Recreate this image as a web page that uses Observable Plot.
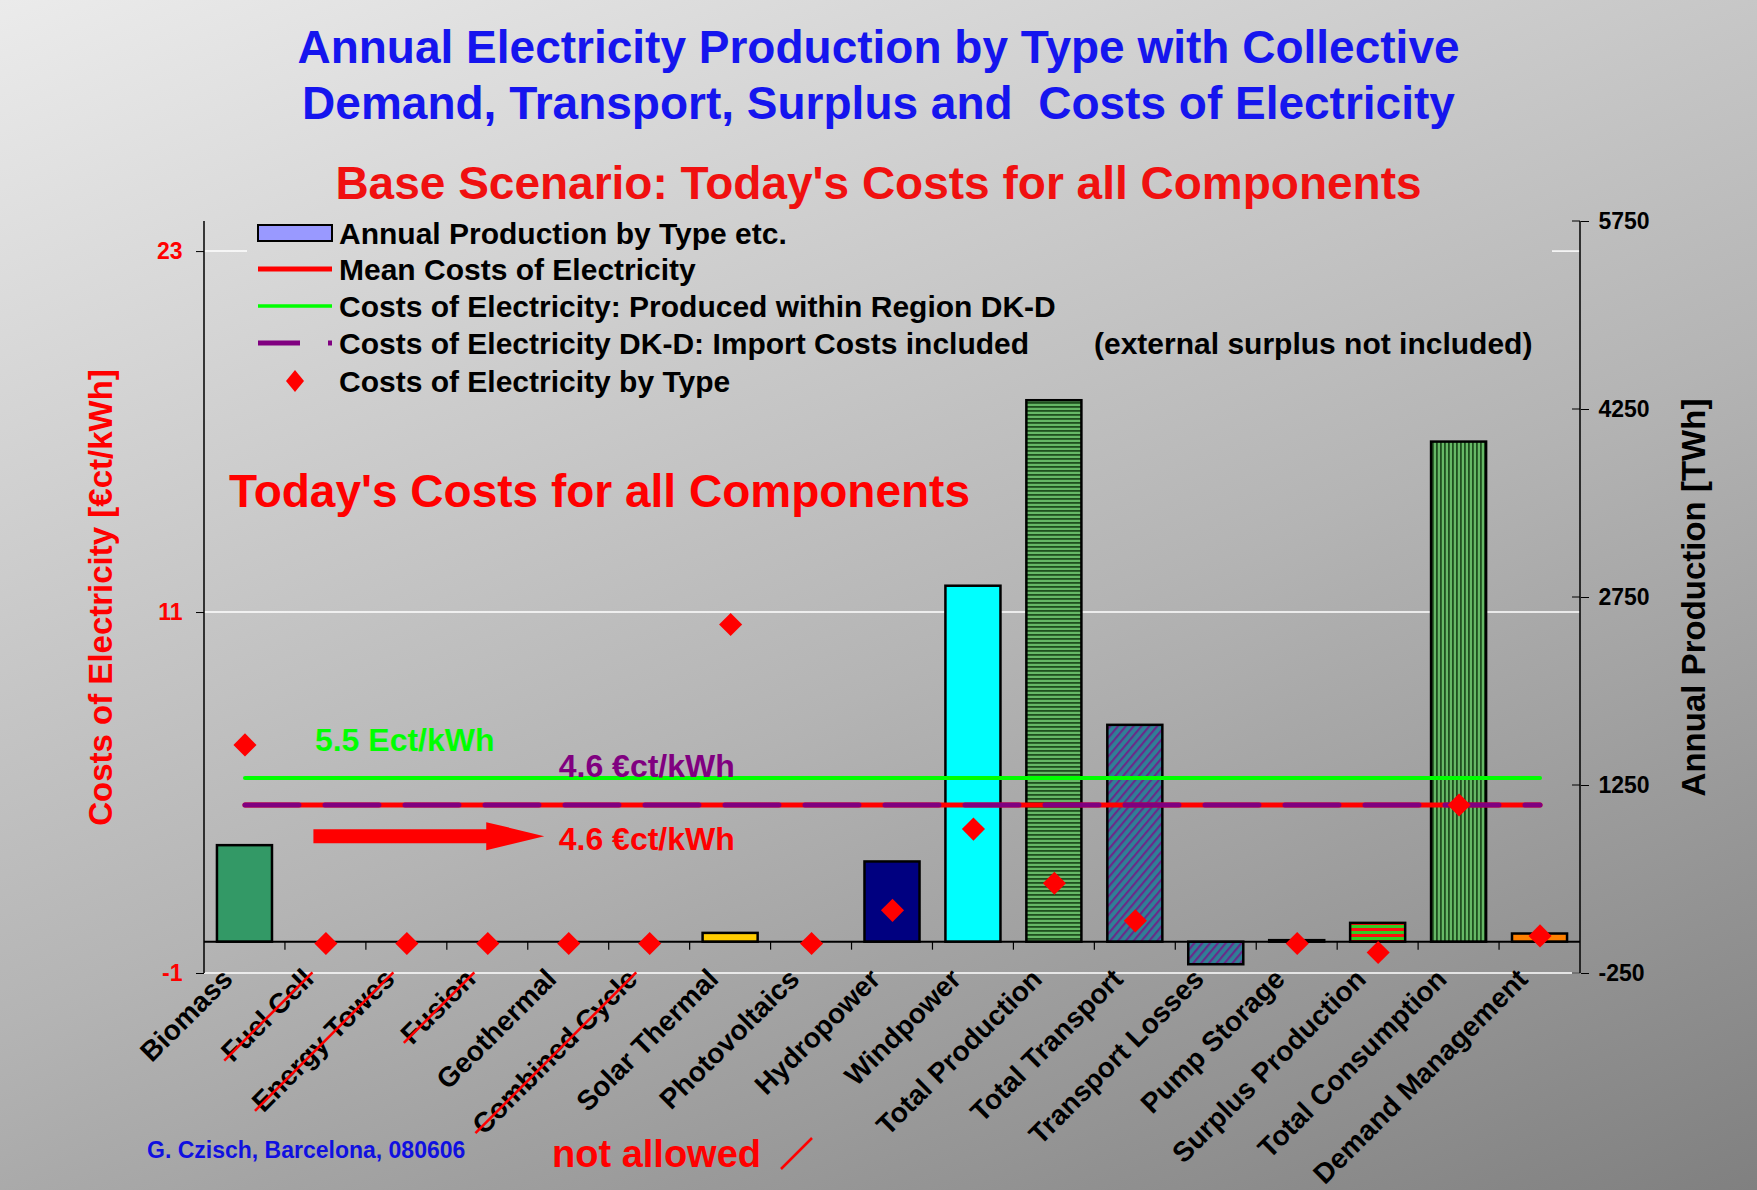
<!DOCTYPE html>
<html>
<head>
<meta charset="utf-8">
<script src="https://cdn.jsdelivr.net/npm/d3@7"></script>
<script src="https://cdn.jsdelivr.net/npm/@observablehq/plot@0.6"></script>
<style>
  html, body { margin: 0; padding: 0; }
  body {
    width: 1757px; height: 1190px; overflow: hidden; position: relative;
    background: linear-gradient(159deg, #ebebeb 0%, #b4b4b4 55%, #808080 100%);
    font-family: "Liberation Sans", Arial, sans-serif;
  }
  .title { position: absolute; left: 0; width: 1757px; text-align: center; font-weight: bold; font-size: 46px; line-height: 56px; white-space: pre; }
  #t1 { top: 19px; color: #1515ee; }
  #t2 { top: 155px; color: #f01010; }
  #chart { position: absolute; left: 0; top: 190px; }
  #overlay { position: absolute; left: 0; top: 0; pointer-events: none; }
</style>
</head>
<body>
<svg width="0" height="0" style="position:absolute">
  <defs>
    <pattern id="hstripe" patternUnits="userSpaceOnUse" width="8" height="4">
      <rect width="8" height="4" fill="#66b866"/>
      <rect width="8" height="1.8" fill="#1f4f1f"/>
    </pattern>
    <pattern id="vstripe" patternUnits="userSpaceOnUse" width="4" height="8">
      <rect width="4" height="8" fill="#66b866"/>
      <rect width="1.8" height="8" fill="#1f4f1f"/>
    </pattern>
    <pattern id="diag" patternUnits="userSpaceOnUse" width="6" height="6" patternTransform="rotate(40)">
      <rect width="6" height="6" fill="#2f8096"/>
      <rect width="2.2" height="6" fill="#6a2a8a"/>
    </pattern>
    <pattern id="redgreen" patternUnits="userSpaceOnUse" width="8" height="6">
      <rect width="8" height="6" fill="#33cc22"/>
      <rect width="8" height="3" fill="#ff1010"/>
    </pattern>
  </defs>
</svg>

<div class="title" id="t1">Annual Electricity Production by Type with Collective
Demand, Transport, Surplus and  Costs of Electricity</div>
<div class="title" id="t2">Base Scenario: Today's Costs for all Components</div>

<div id="chart"></div>

<svg id="overlay" width="1757" height="1190" font-family="'Liberation Sans', Arial, sans-serif" font-weight="bold">
  <!-- legend -->
  <g transform="translate(250,212)">
    <rect x="8" y="13" width="74" height="16" fill="#9999ff" stroke="#000" stroke-width="2"/>
    <line x1="8" x2="82" y1="57" y2="57" stroke="#ff0000" stroke-width="5"/>
    <line x1="8" x2="82" y1="94" y2="94" stroke="#00ff00" stroke-width="3.5"/>
    <line x1="8" x2="82" y1="131" y2="131" stroke="#800080" stroke-width="5" stroke-dasharray="42 28 5 100"/>
    <path d="M45,158 L54,169 L45,180 L36,169 Z" fill="#ff0000"/>
    <g font-size="30" fill="#000" dominant-baseline="central">
      <text x="89" y="21">Annual Production by Type etc.</text>
      <text x="89" y="57">Mean Costs of Electricity</text>
      <text x="89" y="94">Costs of Electricity: Produced within Region DK-D</text>
      <text x="89" y="131">Costs of Electricity DK-D: Import Costs included</text>
      <text x="844" y="131">(external surplus not included)</text>
      <text x="89" y="169">Costs of Electricity by Type</text>
    </g>
  </g>
  <!-- footer -->
  <text x="147" y="1150" font-size="23" fill="#1010e0" dominant-baseline="central">G. Czisch, Barcelona, 080606</text>
  <text x="552" y="1154" font-size="38" fill="#ff0000" dominant-baseline="central">not allowed</text>
  <line x1="781" y1="1169" x2="812" y2="1138" stroke="#ff0000" stroke-width="2.5"/>
</svg>

<script>
// ---------- data ----------
const categories = ["Biomass", "Fuel Cell", "Energy Towes", "Fusion", "Geothermal", "Combined Cycle",
  "Solar Thermal", "Photovoltaics", "Hydropower", "Windpower", "Total Production", "Total Transport",
  "Transport Losses", "Pump Storage", "Surplus Production", "Total Consumption", "Demand Management"];
// Annual production [TWh] (right axis)
const productionTWh = [770, 0, 0, 0, 0, 0, 70, 0, 640, 2840, 4320, 1730, -180, 12, 150, 3990, 65];
// Costs of electricity by type [€ct/kWh] (left axis)
const costsByType = [6.6, 0, 0, 0, 0, 0, 10.6, 0, 1.1, 3.8, 2.0, 0.75, null, 0, -0.3, 4.6, 0.25];
const meanCost = 4.6;        // Mean Costs of Electricity
const regionCost = 5.5;      // Produced within Region DK-D
const importCost = 4.6;      // DK-D incl. import costs
const notAllowed = ["Fuel Cell", "Energy Towes", "Fusion", "Combined Cycle"];
const leftTicks = [-1, 11, 23];
const rightTicks = [-250, 1250, 2750, 4250, 5750];
const leftDomain = [-1, 24];
const rightDomain = [-250, 5750];

// ---------- styles ----------
const barFill = {
  "Biomass": "#339966", "Solar Thermal": "#ffcc00", "Hydropower": "#000080", "Windpower": "#00ffff",
  "Total Production": "url(#hstripe)", "Total Transport": "url(#diag)", "Transport Losses": "url(#diag)",
  "Pump Storage": "#222222", "Surplus Production": "url(#redgreen)", "Total Consumption": "url(#vstripe)",
  "Demand Management": "#ff8000"
};

// dual-axis mapping: TWh (right) -> €ct/kWh (left) coordinates
const k = (leftDomain[1] - leftDomain[0]) / (rightDomain[1] - rightDomain[0]);
const toCost = t => leftDomain[0] + (t - rightDomain[0]) * k;
const fromCost = c => rightDomain[0] + (c - leftDomain[0]) / k;

const bars = categories.map((c, i) => ({category: c, twh: productionTWh[i]})).filter(d => d.twh !== 0);
const costs = categories.map((c, i) => ({category: c, cost: costsByType[i]})).filter(d => d.cost != null);
const span = [categories[0], categories[categories.length - 1]];

const W = 1757, H = 1000;

const gridMark = (index, {y}, values, dims) => {
  const L = dims.marginLeft, R = dims.width - dims.marginRight;
  const g = d3.create("svg:g").attr("stroke", "#ffffff").attr("stroke-width", 1.5);
  for (const v of [leftTicks[0], leftTicks[1]]) g.append("line").attr("x1", L).attr("x2", R).attr("y1", y(v)).attr("y2", y(v));
  g.append("line").attr("x1", L).attr("x2", L + 43).attr("y1", y(leftTicks[2])).attr("y2", y(leftTicks[2]));
  g.append("line").attr("x1", R - 28).attr("x2", R).attr("y1", y(leftTicks[2])).attr("y2", y(leftTicks[2]));
  return g.node();
};

const frameMark = (index, {x, y}, values, dims) => {
  const L = dims.marginLeft, R = dims.width - dims.marginRight;
  const g = d3.create("svg:g").attr("stroke", "#000").attr("fill", "none");
  g.append("line").attr("x1", L).attr("x2", L).attr("y1", y(leftDomain[0])).attr("y2", y(leftDomain[1])).attr("stroke-width", 1.5);
  g.append("line").attr("x1", R).attr("x2", R).attr("y1", y(leftDomain[0])).attr("y2", y(leftDomain[1])).attr("stroke-width", 1.5);
  for (const t of rightTicks) g.append("line").attr("x1", R - 8).attr("x2", R).attr("y1", y(toCost(t))).attr("y2", y(toCost(t)));
  const y0 = y(toCost(0));
  g.append("line").attr("x1", L).attr("x2", R).attr("y1", y0).attr("y2", y0).attr("stroke-width", 2);
  const half = (x.step() - x.bandwidth()) / 2;
  for (const c of categories.slice(1)) {
    const bx = x(c) - half;
    g.append("line").attr("x1", bx).attr("x2", bx).attr("y1", y0).attr("y2", y0 + 8).attr("stroke-width", 1.2);
  }
  return g.node();
};

const arrowMark = (index, {x, y}) => {
  const cx = c => x(c) + x.bandwidth() / 2;
  const xs = cx("Fuel Cell") - 12, xe = cx("Geothermal") - 24, xh = xe - 58, yc = y(3.55);
  const d = `M${xs},${yc - 7}L${xh},${yc - 7}L${xh},${yc - 14}L${xe},${yc}L${xh},${yc + 14}L${xh},${yc + 7}L${xs},${yc + 7}Z`;
  const g = d3.create("svg:g");
  g.append("path").attr("d", d).attr("fill", "#ff0000");
  return g.node();
};

const textStyle = {fontWeight: "bold", textAnchor: "start"};

const svg = Plot.plot({
  width: W, height: H,
  marginTop: 31, marginBottom: 217, marginLeft: 204, marginRight: 177,
  style: {background: "transparent", overflow: "visible", fontFamily: "'Liberation Sans', Arial, sans-serif"},
  x: {domain: categories, paddingInner: 0.32, paddingOuter: 0.16, round: false},
  y: {domain: leftDomain},
  color: {type: "identity"},
  marks: [
    gridMark,
    Plot.barY(bars, {x: "category", y1: toCost(0), y2: d => toCost(d.twh), fill: d => barFill[d.category], stroke: "#000", strokeWidth: 2.5}),
    frameMark,
    Plot.axisY({ticks: leftTicks, tickFormat: d => String(d), tickSize: 8, tickPadding: 14, fontSize: 23, fontWeight: "bold", fill: "#ff0000", stroke: "#000", label: null}),
    Plot.axisY({anchor: "right", ticks: rightTicks.map(toCost), tickFormat: v => String(Math.round(fromCost(v))), tickSize: 8, tickPadding: 10, fontSize: 23, fontWeight: "bold", fill: "#000", stroke: "#000", label: null}),
    Plot.axisX({tickRotate: -45, tickSize: 0, tickPadding: 1, fontSize: 28, fontWeight: "bold", fill: "#000", label: null, dx: -17}),
    Plot.text(["Costs of Electricity [€ct/kWh]"], {text: d => d, frameAnchor: "left", textAnchor: "middle", dx: -103, rotate: -90, fontSize: 33, fontWeight: "bold", fill: "#ff0000"}),
    Plot.text(["Annual Production [TWh]"], {text: d => d, frameAnchor: "right", textAnchor: "middle", dx: 114, rotate: -90, fontSize: 33, fontWeight: "bold", fill: "#000"}),
    Plot.line(span, {x: d => d, y: () => regionCost, stroke: "#00ff00", strokeWidth: 4}),
    Plot.line(span, {x: d => d, y: () => meanCost, stroke: "#ff0000", strokeWidth: 5}),
    Plot.line(span, {x: d => d, y: () => importCost, stroke: "#800080", strokeWidth: 5, strokeDasharray: "54,26"}),
    Plot.text(["Today's Costs for all Components"], {text: d => d, x: () => "Biomass", y: () => 15.0, dx: -16, fontSize: 46, fill: "#ff0000", ...textStyle}),
    Plot.text(["5.5 Ect/kWh"], {text: d => d, x: () => "Fuel Cell", y: () => 6.75, dx: -11, fontSize: 32, fill: "#00ff00", ...textStyle}),
    Plot.text(["4.6 €ct/kWh"], {text: d => d, x: () => "Geothermal", y: () => 5.88, dx: -10, fontSize: 32, fill: "#800080", ...textStyle}),
    Plot.text(["4.6 €ct/kWh"], {text: d => d, x: () => "Geothermal", y: () => 3.45, dx: -10, fontSize: 32, fill: "#ff0000", ...textStyle}),
    arrowMark,
    Plot.dot(costs, {x: "category", y: "cost", symbol: "diamond2", r: 10.4, fill: "#ff0000"})
  ]
});

document.getElementById("chart").append(svg);

// red strike-through on the category labels that are not allowed
svg.querySelectorAll("text").forEach(t => {
  if (!notAllowed.includes(t.textContent.trim())) return;
  const bb = t.getBBox();
  const line = document.createElementNS("http://www.w3.org/2000/svg", "line");
  const tr = t.getAttribute("transform");
  if (tr) line.setAttribute("transform", tr);
  const ym = bb.y + bb.height * 0.55;
  line.setAttribute("x1", bb.x - 4);
  line.setAttribute("x2", bb.x + bb.width + 4);
  line.setAttribute("y1", ym);
  line.setAttribute("y2", ym);
  line.setAttribute("stroke", "#ff0000");
  line.setAttribute("stroke-width", 2.5);
  t.parentNode.appendChild(line);
});
</script>
</body>
</html>
